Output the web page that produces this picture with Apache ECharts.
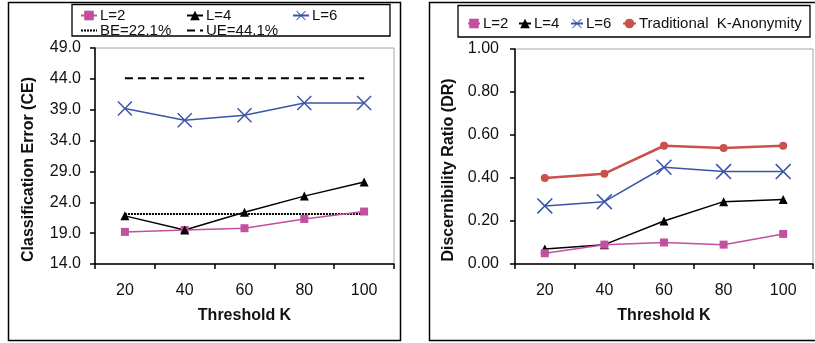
<!DOCTYPE html>
<html>
<head>
<meta charset="utf-8">
<script src="https://cdn.jsdelivr.net/npm/echarts@6/dist/echarts.min.js"></script>
<style>
  html, body { margin: 0; padding: 0; background: #fff; }
  #chart { width: 815px; height: 343px; }
</style>
</head>
<body>
<div id="chart"></div>
<script>
// Threshold K categories shared by both panels
const thresholds = ['20', '40', '60', '80', '100'];

// Classification error (%) per l-diversity level
const ceL2 = [19.2, 19.5, 19.8, 21.3, 22.5];
const ceL4 = [21.8, 19.5, 22.4, 25.0, 27.3];
const ceL6 = [39.2, 37.3, 38.1, 40.1, 40.1];
const ceBase = [22.1, 22.1, 22.1, 22.1, 22.1];   // BE reference
const ceUpper = [44.1, 44.1, 44.1, 44.1, 44.1];  // UE reference

// Discernibility ratio per l-diversity level
const drL2 = [0.05, 0.09, 0.10, 0.09, 0.14];
const drL4 = [0.07, 0.09, 0.20, 0.29, 0.30];
const drL6 = [0.27, 0.29, 0.45, 0.43, 0.43];
const drTrad = [0.40, 0.42, 0.55, 0.54, 0.55];

const FONT = 'Liberation Sans, Arial, sans-serif';
const MAGENTA = '#C24FA0';
const BLUE = '#3A55A8';
const RED = '#C9504B';
const BLACK = '#000';

// thin filled "x" glyph used as the L=6 marker
const XMARK = 'path://M0,0.7 L0.7,0 L5,4.3 L9.3,0 L10,0.7 L5.7,5 L10,9.3 L9.3,10 L5,5.7 L0.7,10 L0,9.3 L4.3,5 Z';

const titleStyle = { fontFamily: FONT, fontWeight: 'bold', fontSize: 16, color: '#111' };

function xAxisCfg(gridIndex) {
  return {
    type: 'category', gridIndex, data: thresholds, boundaryGap: true,
    name: 'Threshold K', nameLocation: 'middle', nameGap: 44,
    nameTextStyle: titleStyle,
    axisLine: { lineStyle: { color: BLACK, width: 1.5 } },
    axisTick: { show: true, length: 5, alignWithLabel: false, lineStyle: { color: BLACK, width: 1.5 } },
    axisLabel: { fontFamily: FONT, fontSize: 16, color: '#111', margin: 19 },
    splitLine: { show: false }
  };
}

function yAxisCfg(gridIndex, opts) {
  return Object.assign({
    type: 'value', gridIndex, nameLocation: 'middle',
    // extra right padding pushes the rotated title a little below the centre
    nameTextStyle: Object.assign({ padding: [0, 27, 0, 0] }, titleStyle),
    axisLine: { show: true, lineStyle: { color: BLACK, width: 1.5 } },
    axisTick: { show: true, length: 5, lineStyle: { color: BLACK, width: 1.5 } },
    splitLine: { show: false }
  }, opts);
}

function lineSeries(name, data, axis, color, width, symbol, size, extra) {
  return Object.assign({
    name, type: 'line', data, xAxisIndex: axis, yAxisIndex: axis,
    symbol, symbolSize: size, showSymbol: symbol !== 'none',
    lineStyle: { color, width },
    itemStyle: { color, borderColor: color, borderWidth: 0 },
    emphasis: { disabled: true }, animation: false, z: 3
  }, extra || {});
}

function legendItem(name, left, top, w, lineOnly) {
  const entry = lineOnly ? { name, itemStyle: { opacity: 0 } } : name;
  return {
    data: [entry], left, top, padding: 0, itemWidth: w, itemHeight: 12, itemGap: 0,
    textStyle: { fontFamily: FONT, fontSize: 15, color: '#111', padding: [0, 0, 0, -2] },
    selectedMode: false
  };
}

const chart = echarts.init(document.getElementById('chart'), null, { renderer: 'canvas' });

chart.setOption({
  backgroundColor: '#fff',
  animation: false,
  grid: [
    { left: 95, top: 48, width: 299, height: 216, show: true, borderColor: '#a6a6a6', borderWidth: 1, backgroundColor: 'transparent' },
    { left: 515, top: 49, width: 298, height: 215, show: true, borderColor: '#a6a6a6', borderWidth: 1, backgroundColor: 'transparent' }
  ],
  xAxis: [xAxisCfg(0), xAxisCfg(1)],
  yAxis: [
    yAxisCfg(0, {
      min: 14, max: 49, interval: 5,
      name: 'Classification Error (CE)', nameGap: 58,
      axisLabel: { fontFamily: FONT, fontSize: 16, color: '#111', margin: 14, formatter: v => v.toFixed(1) }
    }),
    yAxisCfg(1, {
      min: 0, max: 1, interval: 0.2,
      name: 'Discernibility Ratio (DR)', nameGap: 58,
      axisLabel: { fontFamily: FONT, fontSize: 16, color: '#111', margin: 16, formatter: v => v.toFixed(2) }
    })
  ],
  legend: [
    legendItem('L=2', 80, 8, 16),
    legendItem('L=4', 186, 8, 16),
    legendItem('L=6', 292, 8, 16),
    legendItem('BE=22.1%', 80, 23, 16, true),
    legendItem('UE=44.1%', 186, 23, 16, true),
    legendItem('L=2 ', 467, 16, 12),
    legendItem('L=4 ', 518, 16, 12),
    legendItem('L=6 ', 570, 16, 12),
    legendItem('Traditional  K-Anonymity', 622, 16, 13)
  ],
  series: [
    lineSeries('BE=22.1%', ceBase, 0, BLACK, 2, 'none', 0, { lineStyle: { color: BLACK, width: 2.2, type: [2, 1] } }),
    lineSeries('UE=44.1%', ceUpper, 0, BLACK, 2, 'none', 0, { lineStyle: { color: BLACK, width: 2.2, type: [8, 5] } }),
    lineSeries('L=2', ceL2, 0, MAGENTA, 1.5, 'rect', 8),
    lineSeries('L=4', ceL4, 0, BLACK, 1.5, 'triangle', 9),
    lineSeries('L=6', ceL6, 0, BLUE, 1.5, XMARK, 15),
    lineSeries('Traditional  K-Anonymity', drTrad, 1, RED, 2.5, 'circle', 8),
    lineSeries('L=6 ', drL6, 1, BLUE, 1.5, XMARK, 16),
    lineSeries('L=4 ', drL4, 1, BLACK, 1.5, 'triangle', 9),
    lineSeries('L=2 ', drL2, 1, MAGENTA, 1.5, 'rect', 8)
  ],
  graphic: [
    // panel frames
    { type: 'rect', shape: { x: 8.5, y: 2.5, width: 392, height: 338 }, style: { fill: 'none', stroke: BLACK, lineWidth: 1.5 }, silent: true },
    { type: 'rect', shape: { x: 429.5, y: 2.5, width: 392, height: 338 }, style: { fill: 'none', stroke: BLACK, lineWidth: 1.5 }, silent: true },
    // legend boxes
    { type: 'rect', shape: { x: 72, y: 4.5, width: 318, height: 31.5 }, style: { fill: 'none', stroke: BLACK, lineWidth: 1.3 }, silent: true },
    { type: 'rect', shape: { x: 458, y: 5.5, width: 352, height: 31.5 }, style: { fill: 'none', stroke: BLACK, lineWidth: 1.3 }, silent: true }
  ]
});
</script>
</body>
</html>
